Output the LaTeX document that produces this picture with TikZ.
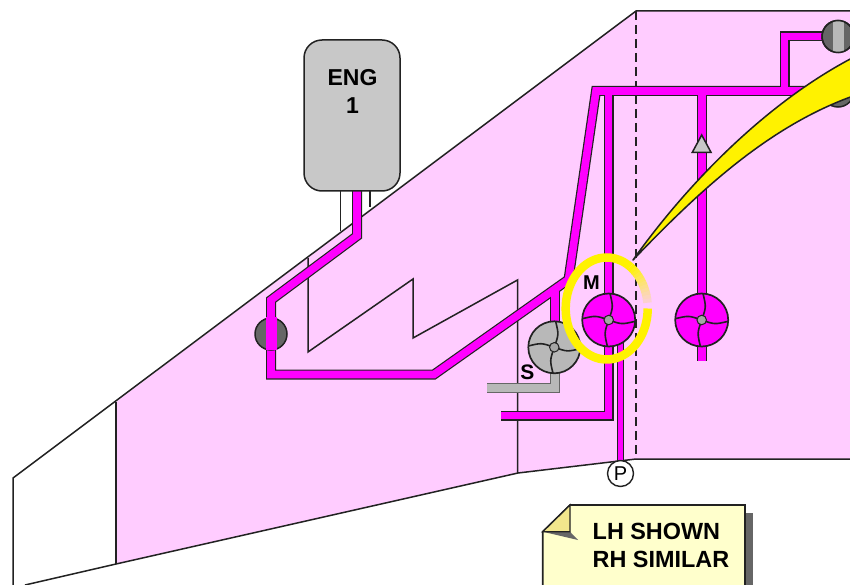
\documentclass[tikz,border=0pt]{standalone}
\usepackage{fontspec}
\setmainfont{Liberation Sans}
\definecolor{wingpink}{HTML}{FFCCFF}
\definecolor{pipemag}{HTML}{FF00FF}
\definecolor{inkline}{HTML}{222222}
\definecolor{enggray}{HTML}{C8C8C8}
\definecolor{fangray}{HTML}{B8B8B8}
\definecolor{valvedark}{HTML}{666666}
\definecolor{notefill}{HTML}{FFFFCC}
\definecolor{notefold}{HTML}{F2E68C}
\tikzset{
  outlinepipe/.style={line width=10pt,draw=inkline,line join=miter,line cap=butt},
  innerpipe/.style={line width=7.6pt,draw=pipemag,line join=miter,line cap=butt},
  struct/.style={draw=inkline,line width=1.5pt},
  fandisc/.style={circle,draw=inkline,line width=1.7pt,minimum size=#1,inner sep=0pt},
  hub/.style={circle,draw=inkline,fill=gray!70,line width=1pt,minimum size=9.5pt,inner sep=0pt},
  valve/.style={circle,draw=inkline,fill=valvedark,line width=1.5pt,minimum size=32pt,inner sep=0pt},
  lbl/.style={font=\bfseries,inner sep=0pt,text=black}
}
\newcommand{\fanat}[4]{%
  \node[fandisc=#3pt,fill=#4] (#1) at (#2) {};
  \foreach \r in {0,90,180,270}{
    \draw[inkline,line width=1.6pt,shift={(#2)},rotate=\r] (0,0) .. controls (4.5,-13) .. (1.3,-#3/2);
  }
  \node[hub] (#1hub) at (#2) {};
}
\begin{document}
\begin{tikzpicture}[x=1pt,y=-1pt]
\useasboundingbox (0,0) rectangle (850,585);
\clip (0,0) rectangle (850,585);
\fill[white] (0,0) rectangle (850,585);
% wing
\fill[wingpink] (116,402) -- (636,11) -- (850,11) -- (850,459) -- (636,459) -- (518,473) -- (116,564) -- cycle;
\draw[struct] (13,585) -- (13,478) -- (636,11) -- (850,11);
\draw[struct] (25,585) -- (116,564) -- (518,473) -- (636,459) -- (850,459);
\draw[struct] (116,402) -- (116,564);
\draw[struct,dashed,dash pattern=on 9pt off 5pt] (636,11) -- (636,459);
% engine struts
\draw[struct] (340.5,190) -- (340.5,231);
\draw[struct] (370,190) -- (370,207);
% spars
\draw[struct] (308,258) -- (308,352) -- (413,279) -- (413,338) -- (517.5,280) -- (517.5,473);
% coordinates
\coordinate (ea) at (357,190);
\coordinate (eb) at (357,236);
\coordinate (ec) at (271,300);
\coordinate (ed) at (271,374.5);
\coordinate (ee) at (434,374.5);
\coordinate (ef) at (568.5,279.5);
\coordinate (eg) at (596,91);
\coordinate (eh) at (850,91);
\coordinate (sa) at (555,291);
\coordinate (sb) at (555,330);
\coordinate (ma) at (608.5,91);
\coordinate (mb) at (608.5,415.5);
\coordinate (mc) at (500.5,415.5);
\coordinate (ta) at (784.5,91);
\coordinate (tb) at (784.5,36.5);
\coordinate (tc) at (830,36.5);
\coordinate (ra) at (701.7,91);
\coordinate (rb) at (701.7,361);
\coordinate (sga) at (555,370);
\coordinate (sgb) at (555,388);
\coordinate (sgc) at (487,388);
% valve behind the arrow
\node[valve] (v2) at (838,91) {};
% pipes
\foreach \st in {outlinepipe,innerpipe}{
  \draw[\st] (ea) -- (eb) -- (ec) -- (ed) -- (ee) -- (ef) -- (eg) -- (eh);
  \draw[\st] (sa) -- (sb);
  \draw[\st] (ma) -- (mb) -- (mc);
  \draw[\st] (ta) -- (tb) -- (tc);
  \draw[\st] (ra) -- (rb);
}
% grey suction pipe
\draw[line width=10pt,draw=gray!80!black] (sga) -- (sgb) -- (sgc);
\draw[line width=7.6pt,draw=fangray] (sga) -- (sgb) -- (sgc);
% P line
\coordinate (pa) at (620.7,340);
\draw[line width=7pt,draw=inkline] (pa) -- (620.7,462);
\draw[line width=4.6pt,draw=pipemag] (pa) -- (620.7,462);
\node[circle,draw=inkline,fill=white,line width=1.4pt,minimum size=26pt,inner sep=0pt,font=\fontsize{20}{20}\selectfont] (pp) at (620.5,473.5) {P};
% engine
\node[draw=inkline,fill=enggray,line width=1.5pt,rounded corners=18pt,minimum width=96pt,minimum height=151pt,inner sep=0pt] (eng) at (352,115.5) {};
\node[lbl,font=\bfseries\fontsize{23}{28}\selectfont,align=center] (engt) at (352.5,91) {ENG\\1};
% valves
\node[valve] (v1) at (271,334) {};
\fill[pipemag] (266,317) rectangle (276.5,349.5);
\node[valve] (v3) at (838,36.5) {};
\fill[fangray] (833,21) rectangle (844,52);
\draw[inkline,line width=1.5pt] (v3) circle (16pt);
% triangle
\coordinate (tria) at (692.3,152.3);
\coordinate (trib) at (701.7,135);
\coordinate (tric) at (711,152.3);
\draw[inkline,fill=enggray,line width=1.5pt] (tria) -- (trib) -- (tric) -- cycle;
% fans
\fanat{sfan}{554.3,347.3}{52}{fangray}
\fanat{mfan}{608.7,320}{53}{pipemag}
\fanat{rfan}{701.7,320}{53}{pipemag}
% labels
\node[lbl,font=\bfseries\fontsize{20}{20}\selectfont] (mlab) at (591.5,283) {M};
\node[lbl,font=\bfseries\fontsize{21}{21}\selectfont] (slab) at (527.3,372) {S};
% yellow ring
\draw[yellow,line width=8.5pt,line cap=butt] plot[domain=0:305,samples=80] ({606.7+41*cos(\x)},{308.5+51*sin(\x)});
\foreach \a in {305,309,...,350}{
  \pgfmathsetmacro{\t}{100-(\a-305)*2}
  \draw[yellow!\t!wingpink,line width=8.5pt] plot[domain=\a:\a+4.5,samples=3] ({606.7+41*cos(\x)},{308.5+51*sin(\x)});
}
% big yellow arrow
\draw[inkline,fill=yellow,line width=1.5pt,line join=round] (633,260) .. controls (690,180) and (770,100) .. (856,56) -- (856,95) .. controls (770,125) and (700,190) .. (633,260) -- cycle;
% note
\fill[valvedark] (745,513) rectangle (752.5,585);
\draw[inkline,fill=notefill,line width=1.6pt] (570,505) -- (745,505) -- (745,590) -- (542.7,590) -- (542.7,531.7) -- cycle;
\fill[valvedark] (570,531.7) -- (578,540) -- (542.7,531.7) -- cycle;
\draw[inkline,fill=notefold,line width=1.4pt] (570,505) -- (570,531.7) -- (542.7,531.7) -- cycle;
\node[lbl,font=\bfseries\fontsize{23.4}{28}\selectfont,anchor=west] (n1) at (592.5,531) {LH SHOWN};
\node[lbl,font=\bfseries\fontsize{23.4}{28}\selectfont,anchor=west] (n2) at (592.5,559) {RH SIMILAR};
\end{tikzpicture}
\end{document}
